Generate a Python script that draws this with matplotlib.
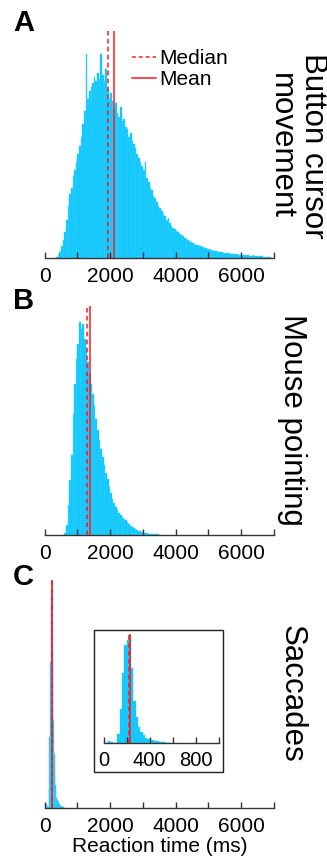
import matplotlib
matplotlib.use("Agg")
import matplotlib.pyplot as plt
from matplotlib.lines import Line2D
from matplotlib.patches import Rectangle
import numpy as np

plt.rcParams['font.family'] = ['Liberation Sans', 'DejaVu Sans']

# %% data (counts, arbitrary units)

# A - button cursor movement, 50 ms bins starting at 350 ms
a_start, a_bw = 350, 50
a_counts = [1, 3, 6, 12, 18, 26, 38, 52, 64, 70,
            82, 88, 96, 104, 112, 122, 135, 148, 205, 160,
            168, 172, 176, 182, 178, 186, 180, 205, 184, 178,
            190, 170, 160, 166, 158, 150, 156, 146, 142, 152,
            138, 140, 132, 130, 122, 126, 118, 114, 110, 104,
            100, 96, 92, 88, 96, 80, 76, 70, 68, 62,
            60, 56, 52, 50, 47, 44, 42, 38, 40, 35,
            32, 30, 29, 27, 26, 24, 23, 22, 20, 19,
            18, 17, 16, 15, 14, 13, 13, 12, 12, 11,
            10, 10, 9, 9, 8, 8, 7, 7, 7, 6,
            6, 6, 5, 5, 5, 5, 4, 4, 4, 4,
            4, 3, 3, 3, 3, 3, 3, 3, 2, 2,
            3, 2, 2, 2, 2, 2, 1, 1, 1, 1, 1]
a_median, a_mean = 1922, 2115

# B - mouse pointing, 50 ms bins starting at 600 ms
b_start, b_bw = 600, 50
b_counts = [2, 10, 30, 55, 80, 120, 150, 175, 190, 212,
            205, 210, 195, 185, 172, 160, 150, 140, 128, 115,
            105, 95, 86, 78, 70, 62, 56, 48, 42, 36,
            32, 28, 25, 22, 20, 18, 16, 15, 13, 11,
            9, 8, 7, 6, 5, 4, 4, 3, 2, 2,
            2, 1, 1, 1, 1, 0.5, 0.5, 0.5]
b_median, b_mean = 1302, 1383

# C - saccades, 20 ms bins starting at 0 ms
c_start, c_bw = 0, 20
c_counts = [0, 0, 2, 1, 0.5, 0.5, 9, 34, 70, 98,
            103, 108, 75, 42, 26, 16, 11, 8, 5, 4,
            3, 3, 2, 2, 1, 1, 1, 0.5, 0.5, 0.3]
c_median, c_mean = 222, 230

xticks_main = [0, 2000, 4000, 6000]
xticks_inset = [0, 400, 800]

# %% styling helpers
W, H = 327, 861
cyan = '#08C6FF'
red = '#FF1A1A'
fs = 15


def fx(px):
    return px / W


def fy(py):
    return 1 - py / H


def hist(ax, start, bw, counts):
    edges = start + bw * np.arange(len(counts))
    ax.bar(edges, counts, width=bw, align='edge', color=cyan,
           edgecolor='#3FD2FF', linewidth=0.3)


def stat_lines(ax, med, mean):
    ax.axvline(med, color=red, lw=1.1, dashes=(3, 2.2))
    ax.axvline(mean, color=red, lw=1.1)


def style(ax, xmax, step, labels, ymax):
    ax.set_xlim(0, xmax)
    ax.set_ylim(0, ymax)
    for s in ['top', 'left', 'right']:
        ax.spines[s].set_visible(False)
    ax.spines['bottom'].set_color('#333333')
    ax.spines['bottom'].set_linewidth(1.0)
    ax.set_yticks([])
    ax.set_xticks(np.arange(0, xmax + 1, step), minor=True)
    ax.set_xticks(labels)
    ax.set_xticklabels([str(v) for v in labels])
    ax.tick_params(axis='x', which='both', direction='in', length=4.5,
                   width=1.0, color='#333333', labelsize=fs, pad=6.5)
    ax.patch.set_alpha(0)


fig = plt.figure(figsize=(W / 100, H / 100), dpi=100)

axA = fig.add_axes([fx(44.7), fy(258), fx(229.3), (258 - 31) / H])
axB = fig.add_axes([fx(44.7), fy(535), fx(229.3), (535 - 306) / H])
axC = fig.add_axes([fx(44.7), fy(808), fx(229.3), (808 - 580) / H])

hist(axA, a_start, a_bw, a_counts)
stat_lines(axA, a_median, a_mean)
style(axA, 7000, 1000, xticks_main, 228)

hist(axB, b_start, b_bw, b_counts)
stat_lines(axB, b_median, b_mean)
style(axB, 7000, 1000, xticks_main, 228)

hist(axC, c_start, c_bw, c_counts)
stat_lines(axC, c_median, c_mean)
style(axC, 7000, 1000, xticks_main, 109)
axC.set_xlabel('Reaction time (ms)', fontsize=fs, labelpad=1)

# inset with frame
fig.patches.append(Rectangle((fx(94), fy(772)), fx(129), 142 / H,
                             transform=fig.transFigure, fill=False,
                             edgecolor='#222222', linewidth=1.0))
axI = fig.add_axes([fx(103.5), fy(743), fx(115), (743 - 634) / H])
hist(axI, c_start, c_bw, c_counts)
stat_lines(axI, c_median, c_mean)
style(axI, 1000, 200, xticks_inset, 109)
axI.tick_params(labelsize=14.5, pad=6)

# legend
handles = [Line2D([], [], color=red, lw=1.1, dashes=(2.5, 2)),
           Line2D([], [], color=red, lw=1.1)]
axA.legend(handles, ['Median', 'Mean'], loc='center left',
           bbox_to_anchor=(fx(132), fy(69)), bbox_transform=fig.transFigure,
           frameon=False, fontsize=fs, handlelength=1.15, handletextpad=0.15,
           borderpad=0, borderaxespad=0, labelspacing=0.1)

# panel letters
for letter, y in [('A', 9), ('B', 287), ('C', 563)]:
    fig.text(fx(13), fy(y), letter, fontsize=21, fontweight='bold',
             ha='left', va='top')

# row labels
fig.text(fx(297), fy(146), 'Button cursor\nmovement', rotation=270,
         fontsize=22.5, ha='center', va='center', multialignment='center',
         linespacing=1.05)
fig.text(fx(292), fy(420), 'Mouse pointing', rotation=270,
         fontsize=22.5, ha='center', va='center')
fig.text(fx(292), fy(694), 'Saccades', rotation=270,
         fontsize=22.5, ha='center', va='center')

fig.savefig('out.png', dpi=100)
